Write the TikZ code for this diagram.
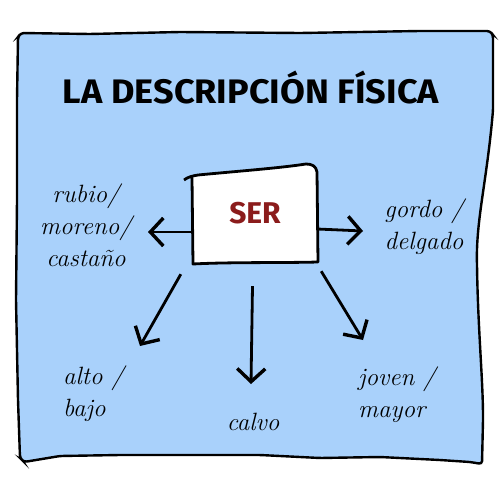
\documentclass[tikz,border=0pt]{standalone}
\usepackage{fontspec}
\setmainfont{Latin Modern Roman}
\newfontfamily\titlefont{Fira Sans}
\usetikzlibrary{arrows.meta}
\definecolor{bgblue}{RGB}{169,209,251}
\definecolor{serred}{RGB}{139,28,28}
\tikzset{
  arr/.style={line width=2.8pt, -{Straight Barb[length=13pt,width=28pt,line width=3.4pt]}},
  hand/.style={font=\fontsize{25}{30}\selectfont\itshape, align=center, inner sep=0pt},
}
\begin{document}
\begin{tikzpicture}[x=1pt,y=-1pt]
\useasboundingbox (0,0) rectangle (500,500);
\fill[white] (0,0) rectangle (500,500);
% frame
\draw[line width=2.4pt, fill=bgblue, rounded corners=3pt]
  (18,37) -- (21,33) -- (90,34) -- (180,32) -- (300,33) -- (420,31) -- (490,31) -- (493,35)
  -- (493,110) .. controls (487,180) and (476,220) .. (477,265)
  .. controls (478,330) and (483,380) .. (483,420) -- (482,464)
  -- (470,462) -- (440,460) -- (380,457) -- (320,458) -- (260,455) -- (200,455) -- (120,455) -- (60,456) -- (24,462) -- (20,458)
  -- (18,400) -- (16,300) -- (17,200) -- (17,100) -- cycle;
% title
\node[font=\titlefont\bfseries\fontsize{34}{38}\selectfont, inner sep=0pt] (title) at (251,88) {\scalebox{1.06}[1]{LA DESCRIPCIÓN FÍSICA}};
% SER box
\node[minimum width=125pt, minimum height=92pt, inner sep=0pt] (ser) at (254.5,217) {};
\draw[line width=2.8pt, fill=white, line join=round]
  (184,180) .. controls (188,177) and (192,176) .. (198,175)
  .. controls (240,171) and (280,168) .. (306,164)
  .. controls (312,164) and (316,166) .. (317,172)
  -- (318,262) .. controls (280,263) and (230,262) .. (193,264)
  -- (192,178);
\node[font=\titlefont\bfseries\fontsize{30}{34}\selectfont, text=serred, inner sep=0pt] (sertext) at (255,213) {SER};
% labels
\node[hand] (lab1) at (86,225) {rubio/\\[2pt]moreno/\\[2pt]castaño};
\node[hand] (lab2) at (424,227) {gordo /\\[2pt]delgado};
\node[hand, align=left, anchor=west] (lab3) at (63,394) {alto /\\[2pt]bajo};
\node[hand] (lab4) at (253,422) {calvo};
\node[hand, align=left, anchor=west] (lab5) at (358,395) {joven /\\[2pt]mayor};
% tips
\coordinate (tL) at (148,232);
\coordinate (tR) at (363,231);
\coordinate (tDL) at (140,346);
\coordinate (tD) at (251,384);
\coordinate (tDR) at (363,340);
% arrows
\draw[arr] ([yshift=-15pt]ser.west) -- (tL);
\draw[arr] ([yshift=-12pt]ser.east) -- (tR);
\draw[arr] ([xshift=-11pt,yshift=-11pt]ser.south west) -- (tDL);
\draw[arr] ([xshift=-2pt,yshift=-23pt]ser.south) -- (tD);
\draw[arr] ([xshift=4pt,yshift=-8pt]ser.south east) -- (tDR);
\end{tikzpicture}
\end{document}
